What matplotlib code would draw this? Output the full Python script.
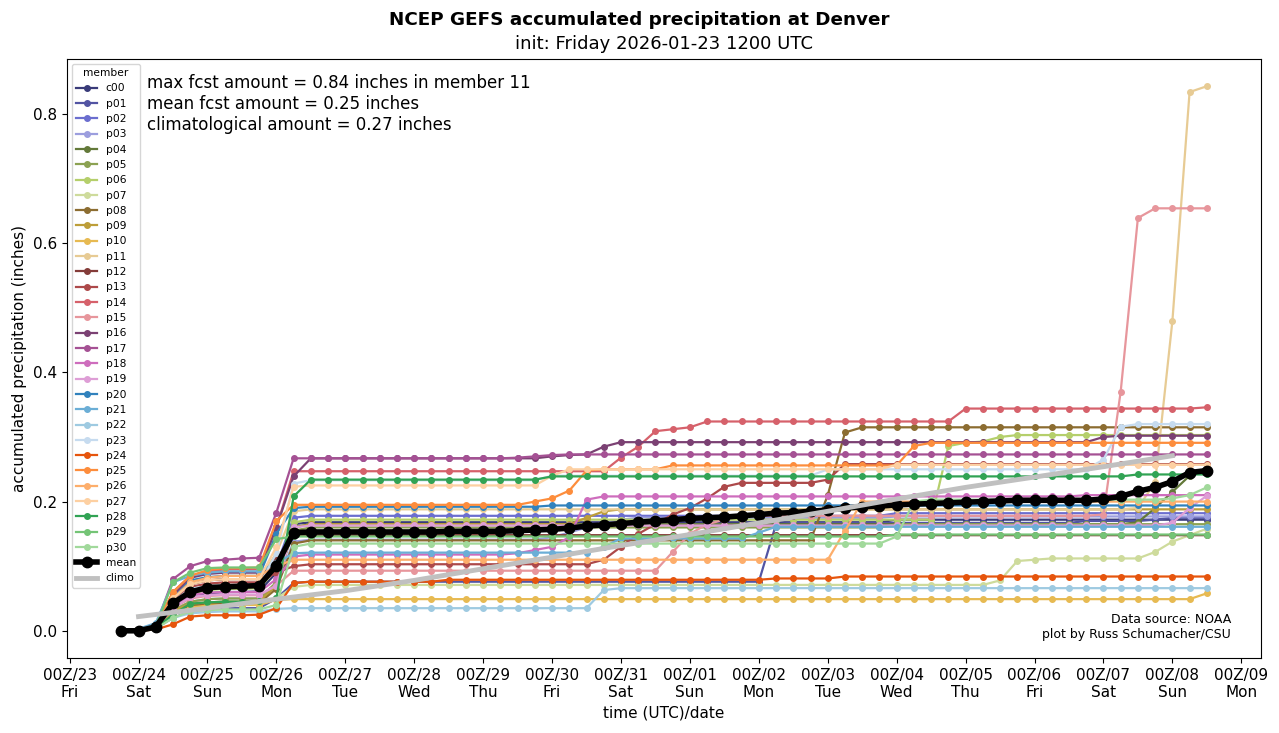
import numpy as np
import pandas as pd
import matplotlib
matplotlib.use("Agg")
import matplotlib.pyplot as plt
import matplotlib.dates as mdates

# 6-hourly forecast times, init 12Z Fri 2026-01-23, f006 .. f384
times = pd.date_range("2026-01-23 18:00", periods=64, freq="6h")
climo_times = pd.date_range("2026-01-24 00:00", periods=16, freq="1D")

members = ["c00"] + ["p%02d" % i for i in range(1, 31)]

# accumulated precip (inches)
c00 = [0.0, 0.001, 0.005, 0.035, 0.055, 0.058, 0.06, 0.06, 0.061, 0.09,
       0.165, 0.168, 0.168, 0.168, 0.168, 0.168, 0.168, 0.168, 0.168, 0.168,
       0.168, 0.168, 0.168, 0.168, 0.168, 0.168, 0.168, 0.168, 0.168, 0.168,
       0.168, 0.168, 0.168, 0.168, 0.168, 0.168, 0.168, 0.168, 0.168, 0.168,
       0.168, 0.168, 0.168, 0.168, 0.168, 0.172, 0.172, 0.172, 0.172, 0.172,
       0.172, 0.172, 0.172, 0.172, 0.172, 0.172, 0.172, 0.172, 0.172, 0.172,
       0.172, 0.172, 0.172, 0.172]
p01 = [0.0, 0.001, 0.004, 0.02, 0.03, 0.034, 0.035, 0.035, 0.035, 0.05,
       0.074, 0.076, 0.076, 0.076, 0.076, 0.076, 0.076, 0.076, 0.076, 0.076,
       0.076, 0.076, 0.076, 0.076, 0.076, 0.076, 0.076, 0.076, 0.076, 0.076,
       0.076, 0.076, 0.076, 0.076, 0.076, 0.076, 0.076, 0.076, 0.165, 0.167,
       0.167, 0.167, 0.167, 0.167, 0.167, 0.167, 0.167, 0.167, 0.167, 0.167,
       0.167, 0.167, 0.167, 0.167, 0.167, 0.167, 0.17, 0.17, 0.17, 0.17,
       0.172, 0.175, 0.175, 0.175]
p02 = [0.0, 0.002, 0.006, 0.045, 0.062, 0.068, 0.07, 0.07, 0.07, 0.1,
       0.175, 0.178, 0.178, 0.178, 0.178, 0.178, 0.178, 0.178, 0.178, 0.178,
       0.178, 0.178, 0.178, 0.178, 0.178, 0.178, 0.178, 0.178, 0.178, 0.178,
       0.178, 0.178, 0.178, 0.178, 0.178, 0.178, 0.178, 0.178, 0.178, 0.178,
       0.178, 0.178, 0.178, 0.178, 0.178, 0.182, 0.182, 0.182, 0.182, 0.182,
       0.182, 0.182, 0.182, 0.182, 0.182, 0.182, 0.182, 0.182, 0.182, 0.182,
       0.182, 0.182, 0.182, 0.182]
p03 = [0.0, 0.001, 0.005, 0.03, 0.045, 0.049, 0.05, 0.05, 0.05, 0.07,
       0.138, 0.141, 0.141, 0.141, 0.141, 0.141, 0.141, 0.141, 0.141, 0.141,
       0.141, 0.141, 0.141, 0.141, 0.141, 0.145, 0.152, 0.16, 0.168, 0.172,
       0.175, 0.175, 0.175, 0.175, 0.175, 0.175, 0.175, 0.175, 0.175, 0.175,
       0.175, 0.175, 0.175, 0.175, 0.175, 0.177, 0.177, 0.177, 0.177, 0.177,
       0.177, 0.177, 0.177, 0.177, 0.177, 0.177, 0.177, 0.177, 0.177, 0.177,
       0.177, 0.177, 0.177, 0.177]
p04 = [0.0, 0.001, 0.004, 0.028, 0.04, 0.044, 0.045, 0.045, 0.046, 0.07,
       0.16, 0.165, 0.165, 0.165, 0.165, 0.165, 0.165, 0.165, 0.165, 0.165,
       0.165, 0.165, 0.165, 0.165, 0.165, 0.165, 0.165, 0.165, 0.165, 0.165,
       0.165, 0.165, 0.165, 0.165, 0.165, 0.165, 0.165, 0.165, 0.165, 0.165,
       0.165, 0.165, 0.165, 0.165, 0.165, 0.165, 0.165, 0.165, 0.165, 0.165,
       0.165, 0.165, 0.165, 0.165, 0.165, 0.165, 0.165, 0.165, 0.165, 0.168,
       0.19, 0.215, 0.24, 0.252]
p05 = [0.0, 0.001, 0.005, 0.032, 0.045, 0.049, 0.05, 0.05, 0.05, 0.075,
       0.155, 0.16, 0.16, 0.16, 0.16, 0.16, 0.16, 0.16, 0.16, 0.16,
       0.16, 0.16, 0.16, 0.16, 0.16, 0.16, 0.16, 0.16, 0.16, 0.16,
       0.16, 0.16, 0.16, 0.16, 0.16, 0.16, 0.16, 0.16, 0.16, 0.16,
       0.16, 0.16, 0.16, 0.16, 0.16, 0.165, 0.165, 0.165, 0.165, 0.165,
       0.165, 0.165, 0.165, 0.165, 0.165, 0.165, 0.165, 0.165, 0.165, 0.165,
       0.165, 0.165, 0.165, 0.165]
p06 = [0.0, 0.002, 0.006, 0.04, 0.058, 0.063, 0.065, 0.065, 0.066, 0.095,
       0.168, 0.172, 0.172, 0.172, 0.172, 0.172, 0.172, 0.172, 0.172, 0.172,
       0.172, 0.172, 0.172, 0.172, 0.172, 0.172, 0.172, 0.172, 0.172, 0.172,
       0.172, 0.172, 0.172, 0.172, 0.172, 0.172, 0.172, 0.172, 0.172, 0.172,
       0.172, 0.172, 0.172, 0.172, 0.172, 0.172, 0.172, 0.172, 0.286, 0.291,
       0.293, 0.3, 0.303, 0.303, 0.303, 0.303, 0.303, 0.303, 0.303, 0.303,
       0.303, 0.303, 0.303, 0.303]
p07 = [0.0, 0.001, 0.004, 0.025, 0.036, 0.039, 0.04, 0.04, 0.04, 0.05,
       0.068, 0.071, 0.071, 0.071, 0.071, 0.071, 0.071, 0.071, 0.071, 0.071,
       0.071, 0.071, 0.071, 0.071, 0.071, 0.071, 0.071, 0.071, 0.071, 0.071,
       0.071, 0.071, 0.071, 0.071, 0.071, 0.071, 0.071, 0.071, 0.071, 0.071,
       0.071, 0.071, 0.071, 0.071, 0.071, 0.071, 0.071, 0.071, 0.071, 0.071,
       0.071, 0.078, 0.108, 0.11, 0.112, 0.112, 0.112, 0.112, 0.112, 0.112,
       0.122, 0.138, 0.148, 0.158]
p08 = [0.0, 0.001, 0.004, 0.026, 0.038, 0.041, 0.042, 0.042, 0.043, 0.065,
       0.135, 0.14, 0.14, 0.14, 0.14, 0.14, 0.14, 0.14, 0.14, 0.14,
       0.14, 0.14, 0.14, 0.14, 0.14, 0.14, 0.14, 0.14, 0.14, 0.14,
       0.14, 0.14, 0.14, 0.14, 0.14, 0.14, 0.14, 0.14, 0.14, 0.14,
       0.14, 0.21, 0.307, 0.315, 0.315, 0.315, 0.315, 0.315, 0.315, 0.315,
       0.315, 0.315, 0.315, 0.315, 0.315, 0.315, 0.315, 0.315, 0.315, 0.315,
       0.315, 0.315, 0.315, 0.315]
p09 = [0.0, 0.001, 0.005, 0.03, 0.042, 0.044, 0.045, 0.045, 0.046, 0.07,
       0.16, 0.165, 0.165, 0.165, 0.165, 0.165, 0.165, 0.165, 0.165, 0.165,
       0.165, 0.165, 0.165, 0.165, 0.165, 0.165, 0.165, 0.175, 0.185, 0.188,
       0.188, 0.188, 0.188, 0.188, 0.188, 0.188, 0.188, 0.188, 0.188, 0.188,
       0.188, 0.188, 0.188, 0.188, 0.188, 0.188, 0.188, 0.188, 0.188, 0.188,
       0.188, 0.188, 0.188, 0.188, 0.188, 0.188, 0.188, 0.188, 0.188, 0.188,
       0.188, 0.188, 0.188, 0.188]
p10 = [0.0, 0.001, 0.004, 0.025, 0.036, 0.039, 0.04, 0.04, 0.04, 0.048,
       0.049, 0.049, 0.049, 0.049, 0.049, 0.049, 0.049, 0.049, 0.049, 0.049,
       0.049, 0.049, 0.049, 0.049, 0.049, 0.049, 0.049, 0.049, 0.049, 0.049,
       0.049, 0.049, 0.049, 0.049, 0.049, 0.049, 0.049, 0.049, 0.049, 0.049,
       0.049, 0.049, 0.049, 0.049, 0.049, 0.049, 0.049, 0.049, 0.049, 0.049,
       0.049, 0.049, 0.049, 0.049, 0.049, 0.049, 0.049, 0.049, 0.049, 0.049,
       0.049, 0.049, 0.049, 0.058]
p11 = [0.0, 0.002, 0.006, 0.05, 0.072, 0.078, 0.08, 0.08, 0.08, 0.12,
       0.185, 0.188, 0.188, 0.188, 0.188, 0.188, 0.188, 0.188, 0.188, 0.188,
       0.188, 0.188, 0.188, 0.188, 0.188, 0.188, 0.188, 0.188, 0.188, 0.188,
       0.188, 0.188, 0.188, 0.188, 0.188, 0.188, 0.188, 0.188, 0.188, 0.188,
       0.188, 0.188, 0.188, 0.188, 0.188, 0.188, 0.188, 0.188, 0.188, 0.188,
       0.188, 0.188, 0.188, 0.188, 0.188, 0.188, 0.188, 0.188, 0.188, 0.19,
       0.23, 0.479, 0.834, 0.843]
p12 = [0.0, 0.002, 0.006, 0.05, 0.072, 0.078, 0.08, 0.08, 0.08, 0.11,
       0.148, 0.148, 0.148, 0.148, 0.148, 0.148, 0.148, 0.148, 0.148, 0.148,
       0.148, 0.148, 0.148, 0.148, 0.148, 0.148, 0.148, 0.148, 0.148, 0.148,
       0.148, 0.148, 0.148, 0.148, 0.148, 0.148, 0.148, 0.148, 0.148, 0.148,
       0.148, 0.148, 0.148, 0.148, 0.148, 0.148, 0.148, 0.148, 0.148, 0.148,
       0.148, 0.148, 0.148, 0.148, 0.148, 0.148, 0.148, 0.148, 0.148, 0.148,
       0.148, 0.148, 0.148, 0.148]
p13 = [0.0, 0.002, 0.006, 0.045, 0.068, 0.073, 0.075, 0.075, 0.075, 0.09,
       0.1, 0.103, 0.103, 0.103, 0.103, 0.103, 0.103, 0.103, 0.103, 0.103,
       0.103, 0.103, 0.103, 0.103, 0.103, 0.103, 0.103, 0.103, 0.11, 0.13,
       0.15, 0.165, 0.18, 0.19, 0.205, 0.223, 0.229, 0.229, 0.229, 0.229,
       0.229, 0.234, 0.258, 0.258, 0.258, 0.258, 0.258, 0.258, 0.258, 0.258,
       0.258, 0.258, 0.258, 0.258, 0.258, 0.258, 0.258, 0.258, 0.258, 0.258,
       0.258, 0.258, 0.258, 0.258]
p14 = [0.0, 0.002, 0.007, 0.06, 0.085, 0.092, 0.095, 0.095, 0.095, 0.16,
       0.247, 0.247, 0.247, 0.247, 0.247, 0.247, 0.247, 0.247, 0.247, 0.247,
       0.247, 0.247, 0.247, 0.247, 0.247, 0.247, 0.247, 0.247, 0.247, 0.268,
       0.285, 0.309, 0.312, 0.315, 0.324, 0.324, 0.324, 0.324, 0.324, 0.324,
       0.324, 0.324, 0.324, 0.324, 0.324, 0.324, 0.324, 0.324, 0.324, 0.344,
       0.344, 0.344, 0.344, 0.344, 0.344, 0.344, 0.344, 0.344, 0.344, 0.344,
       0.344, 0.344, 0.344, 0.346]
p15 = [0.0, 0.001, 0.005, 0.035, 0.05, 0.054, 0.055, 0.055, 0.055, 0.07,
       0.093, 0.093, 0.093, 0.093, 0.093, 0.093, 0.093, 0.093, 0.093, 0.093,
       0.093, 0.093, 0.093, 0.093, 0.093, 0.093, 0.093, 0.093, 0.093, 0.093,
       0.093, 0.093, 0.122, 0.15, 0.165, 0.172, 0.178, 0.178, 0.178, 0.178,
       0.178, 0.178, 0.178, 0.178, 0.178, 0.178, 0.178, 0.178, 0.178, 0.178,
       0.178, 0.178, 0.178, 0.178, 0.178, 0.178, 0.178, 0.18, 0.37, 0.639,
       0.654, 0.654, 0.654, 0.654]
p16 = [0.0, 0.002, 0.007, 0.055, 0.082, 0.088, 0.09, 0.09, 0.09, 0.16,
       0.239, 0.267, 0.267, 0.267, 0.267, 0.267, 0.267, 0.267, 0.267, 0.267,
       0.267, 0.267, 0.267, 0.267, 0.267, 0.27, 0.272, 0.273, 0.285, 0.292,
       0.292, 0.292, 0.292, 0.292, 0.292, 0.292, 0.292, 0.292, 0.292, 0.292,
       0.292, 0.292, 0.292, 0.292, 0.292, 0.292, 0.292, 0.292, 0.292, 0.292,
       0.292, 0.292, 0.292, 0.292, 0.292, 0.292, 0.292, 0.3, 0.302, 0.302,
       0.302, 0.302, 0.302, 0.302]
p17 = [0.0, 0.002, 0.008, 0.08, 0.1, 0.108, 0.11, 0.112, 0.113, 0.183,
       0.267, 0.267, 0.267, 0.267, 0.267, 0.267, 0.267, 0.267, 0.267, 0.267,
       0.267, 0.267, 0.267, 0.268, 0.27, 0.272, 0.273, 0.273, 0.273, 0.273,
       0.273, 0.273, 0.273, 0.273, 0.273, 0.273, 0.273, 0.273, 0.273, 0.273,
       0.273, 0.273, 0.273, 0.273, 0.273, 0.273, 0.273, 0.273, 0.273, 0.273,
       0.273, 0.273, 0.273, 0.273, 0.273, 0.273, 0.273, 0.273, 0.273, 0.273,
       0.273, 0.273, 0.273, 0.273]
p18 = [0.0, 0.001, 0.005, 0.038, 0.055, 0.059, 0.06, 0.06, 0.06, 0.08,
       0.115, 0.118, 0.118, 0.118, 0.118, 0.118, 0.118, 0.118, 0.118, 0.118,
       0.118, 0.118, 0.118, 0.12, 0.125, 0.13, 0.145, 0.203, 0.208, 0.208,
       0.208, 0.208, 0.208, 0.208, 0.208, 0.208, 0.208, 0.208, 0.208, 0.208,
       0.208, 0.208, 0.208, 0.208, 0.208, 0.208, 0.208, 0.208, 0.208, 0.208,
       0.208, 0.208, 0.208, 0.208, 0.208, 0.208, 0.21, 0.21, 0.21, 0.21,
       0.21, 0.21, 0.21, 0.21]
p19 = [0.0, 0.001, 0.005, 0.035, 0.052, 0.055, 0.056, 0.056, 0.056, 0.07,
       0.16, 0.163, 0.163, 0.163, 0.163, 0.163, 0.163, 0.163, 0.163, 0.163,
       0.163, 0.163, 0.163, 0.163, 0.163, 0.163, 0.163, 0.163, 0.163, 0.163,
       0.163, 0.163, 0.163, 0.163, 0.163, 0.163, 0.163, 0.163, 0.163, 0.163,
       0.163, 0.163, 0.163, 0.163, 0.163, 0.163, 0.163, 0.163, 0.163, 0.163,
       0.163, 0.163, 0.163, 0.163, 0.163, 0.163, 0.163, 0.163, 0.163, 0.163,
       0.163, 0.167, 0.19, 0.209]
p20 = [0.0, 0.002, 0.006, 0.05, 0.078, 0.083, 0.085, 0.085, 0.085, 0.15,
       0.19, 0.192, 0.192, 0.192, 0.192, 0.192, 0.192, 0.192, 0.192, 0.192,
       0.192, 0.192, 0.192, 0.192, 0.192, 0.194, 0.194, 0.194, 0.194, 0.194,
       0.194, 0.194, 0.194, 0.194, 0.194, 0.194, 0.194, 0.194, 0.194, 0.194,
       0.194, 0.194, 0.194, 0.194, 0.194, 0.194, 0.194, 0.194, 0.194, 0.194,
       0.194, 0.194, 0.194, 0.194, 0.194, 0.194, 0.194, 0.194, 0.194, 0.194,
       0.194, 0.194, 0.194, 0.194]
p21 = [0.0, 0.003, 0.012, 0.075, 0.085, 0.09, 0.092, 0.092, 0.092, 0.105,
       0.12, 0.121, 0.121, 0.121, 0.121, 0.121, 0.121, 0.121, 0.121, 0.121,
       0.121, 0.121, 0.121, 0.121, 0.121, 0.121, 0.121, 0.121, 0.13, 0.143,
       0.143, 0.143, 0.143, 0.143, 0.143, 0.143, 0.143, 0.152, 0.161, 0.161,
       0.161, 0.161, 0.161, 0.161, 0.161, 0.161, 0.161, 0.161, 0.161, 0.161,
       0.161, 0.161, 0.161, 0.161, 0.161, 0.161, 0.161, 0.161, 0.161, 0.161,
       0.161, 0.161, 0.161, 0.161]
p22 = [0.0, 0.001, 0.004, 0.02, 0.027, 0.029, 0.03, 0.03, 0.03, 0.034,
       0.035, 0.035, 0.035, 0.035, 0.035, 0.035, 0.035, 0.035, 0.035, 0.035,
       0.035, 0.035, 0.035, 0.035, 0.035, 0.035, 0.035, 0.035, 0.063, 0.066,
       0.066, 0.066, 0.066, 0.066, 0.066, 0.066, 0.066, 0.066, 0.066, 0.066,
       0.066, 0.066, 0.066, 0.066, 0.066, 0.066, 0.066, 0.066, 0.066, 0.066,
       0.066, 0.066, 0.066, 0.066, 0.066, 0.066, 0.066, 0.066, 0.066, 0.066,
       0.066, 0.066, 0.066, 0.066]
p23 = [0.0, 0.002, 0.006, 0.045, 0.065, 0.069, 0.07, 0.07, 0.07, 0.12,
       0.228, 0.233, 0.233, 0.233, 0.233, 0.233, 0.233, 0.233, 0.233, 0.233,
       0.233, 0.233, 0.233, 0.233, 0.233, 0.24, 0.24, 0.24, 0.24, 0.24,
       0.24, 0.24, 0.24, 0.24, 0.24, 0.24, 0.24, 0.24, 0.24, 0.24,
       0.24, 0.25, 0.25, 0.25, 0.25, 0.25, 0.25, 0.25, 0.25, 0.25,
       0.25, 0.25, 0.25, 0.25, 0.25, 0.25, 0.25, 0.265, 0.316, 0.32,
       0.32, 0.32, 0.32, 0.32]
p24 = [0.0, 0.0, 0.002, 0.01, 0.022, 0.024, 0.024, 0.024, 0.025, 0.035,
       0.074, 0.076, 0.076, 0.076, 0.076, 0.076, 0.076, 0.076, 0.076, 0.079,
       0.079, 0.079, 0.079, 0.079, 0.079, 0.079, 0.079, 0.079, 0.079, 0.079,
       0.079, 0.079, 0.079, 0.079, 0.079, 0.079, 0.079, 0.079, 0.081, 0.081,
       0.081, 0.081, 0.084, 0.084, 0.084, 0.084, 0.084, 0.084, 0.084, 0.084,
       0.084, 0.084, 0.084, 0.084, 0.084, 0.084, 0.084, 0.084, 0.084, 0.084,
       0.084, 0.084, 0.084, 0.084]
p25 = [0.0, 0.002, 0.008, 0.06, 0.085, 0.094, 0.097, 0.097, 0.098, 0.17,
       0.195, 0.195, 0.195, 0.195, 0.195, 0.195, 0.195, 0.195, 0.195, 0.195,
       0.195, 0.195, 0.195, 0.195, 0.2, 0.205, 0.217, 0.248, 0.25, 0.25,
       0.25, 0.25, 0.256, 0.256, 0.256, 0.256, 0.256, 0.256, 0.256, 0.256,
       0.256, 0.256, 0.256, 0.256, 0.256, 0.256, 0.286, 0.291, 0.291, 0.291,
       0.291, 0.291, 0.291, 0.291, 0.291, 0.291, 0.291, 0.291, 0.291, 0.291,
       0.291, 0.291, 0.291, 0.291]
p26 = [0.0, 0.002, 0.007, 0.05, 0.075, 0.082, 0.085, 0.085, 0.085, 0.1,
       0.11, 0.11, 0.11, 0.11, 0.11, 0.11, 0.11, 0.11, 0.11, 0.11,
       0.11, 0.11, 0.11, 0.11, 0.11, 0.11, 0.11, 0.11, 0.11, 0.11,
       0.11, 0.11, 0.11, 0.11, 0.11, 0.11, 0.11, 0.11, 0.11, 0.11,
       0.11, 0.11, 0.155, 0.2, 0.2, 0.2, 0.2, 0.2, 0.2, 0.2,
       0.2, 0.2, 0.2, 0.2, 0.2, 0.2, 0.2, 0.2, 0.2, 0.2,
       0.2, 0.2, 0.2, 0.2]
p27 = [0.0, 0.002, 0.007, 0.05, 0.072, 0.078, 0.08, 0.08, 0.08, 0.13,
       0.223, 0.225, 0.225, 0.225, 0.225, 0.225, 0.225, 0.225, 0.225, 0.225,
       0.225, 0.225, 0.225, 0.225, 0.225, 0.24, 0.25, 0.25, 0.25, 0.25,
       0.25, 0.25, 0.25, 0.25, 0.25, 0.25, 0.25, 0.25, 0.25, 0.25,
       0.25, 0.25, 0.25, 0.25, 0.25, 0.257, 0.257, 0.257, 0.257, 0.257,
       0.257, 0.257, 0.257, 0.257, 0.257, 0.257, 0.257, 0.257, 0.257, 0.257,
       0.257, 0.257, 0.257, 0.257]
p28 = [0.0, 0.001, 0.004, 0.025, 0.042, 0.044, 0.045, 0.045, 0.046, 0.05,
       0.208, 0.234, 0.234, 0.234, 0.234, 0.234, 0.234, 0.234, 0.234, 0.234,
       0.234, 0.234, 0.234, 0.234, 0.234, 0.239, 0.239, 0.239, 0.239, 0.239,
       0.239, 0.239, 0.239, 0.239, 0.239, 0.239, 0.239, 0.239, 0.239, 0.239,
       0.239, 0.239, 0.239, 0.239, 0.239, 0.239, 0.239, 0.239, 0.239, 0.239,
       0.239, 0.239, 0.239, 0.239, 0.239, 0.239, 0.239, 0.239, 0.239, 0.242,
       0.242, 0.242, 0.242, 0.242]
p29 = [0.0, 0.002, 0.007, 0.075, 0.09, 0.097, 0.098, 0.098, 0.098, 0.142,
       0.146, 0.146, 0.146, 0.146, 0.146, 0.146, 0.146, 0.146, 0.146, 0.146,
       0.146, 0.146, 0.146, 0.146, 0.146, 0.146, 0.146, 0.146, 0.146, 0.146,
       0.146, 0.146, 0.146, 0.146, 0.146, 0.146, 0.146, 0.146, 0.146, 0.146,
       0.146, 0.146, 0.146, 0.146, 0.146, 0.149, 0.149, 0.149, 0.149, 0.149,
       0.149, 0.149, 0.149, 0.149, 0.149, 0.149, 0.149, 0.149, 0.149, 0.149,
       0.149, 0.149, 0.149, 0.149]
p30 = [0.0, 0.001, 0.003, 0.02, 0.03, 0.032, 0.033, 0.033, 0.033, 0.04,
       0.13, 0.135, 0.135, 0.135, 0.135, 0.135, 0.135, 0.135, 0.135, 0.135,
       0.135, 0.135, 0.135, 0.135, 0.135, 0.135, 0.135, 0.135, 0.135, 0.135,
       0.135, 0.135, 0.135, 0.135, 0.135, 0.135, 0.135, 0.135, 0.135, 0.135,
       0.135, 0.135, 0.135, 0.135, 0.135, 0.146, 0.2, 0.203, 0.203, 0.203,
       0.203, 0.203, 0.203, 0.203, 0.203, 0.203, 0.203, 0.203, 0.203, 0.203,
       0.203, 0.205, 0.21, 0.222]

ens_mean = [0.0, 0.0, 0.006, 0.043, 0.06, 0.067, 0.068, 0.069, 0.07, 0.101,
            0.152, 0.153, 0.153, 0.153, 0.153, 0.153, 0.153, 0.153, 0.153, 0.154,
            0.154, 0.154, 0.154, 0.155, 0.156, 0.157, 0.159, 0.162, 0.164, 0.166,
            0.168, 0.17, 0.172, 0.174, 0.175, 0.176, 0.178, 0.18, 0.182, 0.183,
            0.185, 0.187, 0.19, 0.192, 0.193, 0.195, 0.196, 0.197, 0.198, 0.199,
            0.2, 0.201, 0.202, 0.202, 0.202, 0.202, 0.202, 0.204, 0.208, 0.216,
            0.222, 0.231, 0.245, 0.248]

climo = [0.022, 0.035, 0.049, 0.062, 0.078, 0.096, 0.114, 0.132,
         0.149, 0.167, 0.185, 0.204, 0.222, 0.238, 0.254, 0.271]

series = [c00, p01, p02, p03, p04, p05, p06, p07, p08, p09, p10,
          p11, p12, p13, p14, p15, p16, p17, p18, p19, p20,
          p21, p22, p23, p24, p25, p26, p27, p28, p29, p30]

# tab20b for c00-p19, tab20c for p20-p30
colors = list(plt.cm.tab20b.colors) + list(plt.cm.tab20c.colors)

fig = plt.figure(figsize=(12.79, 7.33), dpi=100)
ax = fig.add_axes([0.0524, 0.1023, 0.9336, 0.8172])

for i, (name, vals) in enumerate(zip(members, series)):
    ax.plot(times, vals, color=colors[i], marker="o", ms=4, lw=1.6, label=name)

ax.plot(times, ens_mean, color="k", marker="o", ms=7.5, lw=4, label="mean")
ax.plot(climo_times, climo, color="#c0c0c0", lw=3.5, label="climo")

ax.xaxis.set_major_locator(mdates.DayLocator())
ax.xaxis.set_major_formatter(mdates.DateFormatter("%HZ/%d\n%a"))
ax.tick_params(labelsize=11)
ax.set_xlabel("time (UTC)/date", fontsize=11)
ax.set_ylabel("accumulated precipitation (inches)", fontsize=11)

leg = ax.legend(loc="upper left", title="member", fontsize=7.65,
                title_fontsize=7.65, borderaxespad=0.45)

ax.text(0.067, 0.975,
        "max fcst amount = %.2f inches in member 11\n"
        "mean fcst amount = %.2f inches\n"
        "climatological amount = %.2f inches" % (max(p11), ens_mean[-1], climo[-1]),
        transform=ax.transAxes, va="top", ha="left", fontsize=12)
ax.text(0.975, 0.028, "Data source: NOAA\nplot by Russ Schumacher/CSU",
        transform=ax.transAxes, va="bottom", ha="right", fontsize=9)

fig.suptitle("NCEP GEFS accumulated precipitation at Denver",
             fontsize=13.2, fontweight="bold", y=0.985)
ax.set_title("init: Friday 2026-01-23 1200 UTC", fontsize=13, pad=7)

fig.savefig("out.png", dpi=100)
